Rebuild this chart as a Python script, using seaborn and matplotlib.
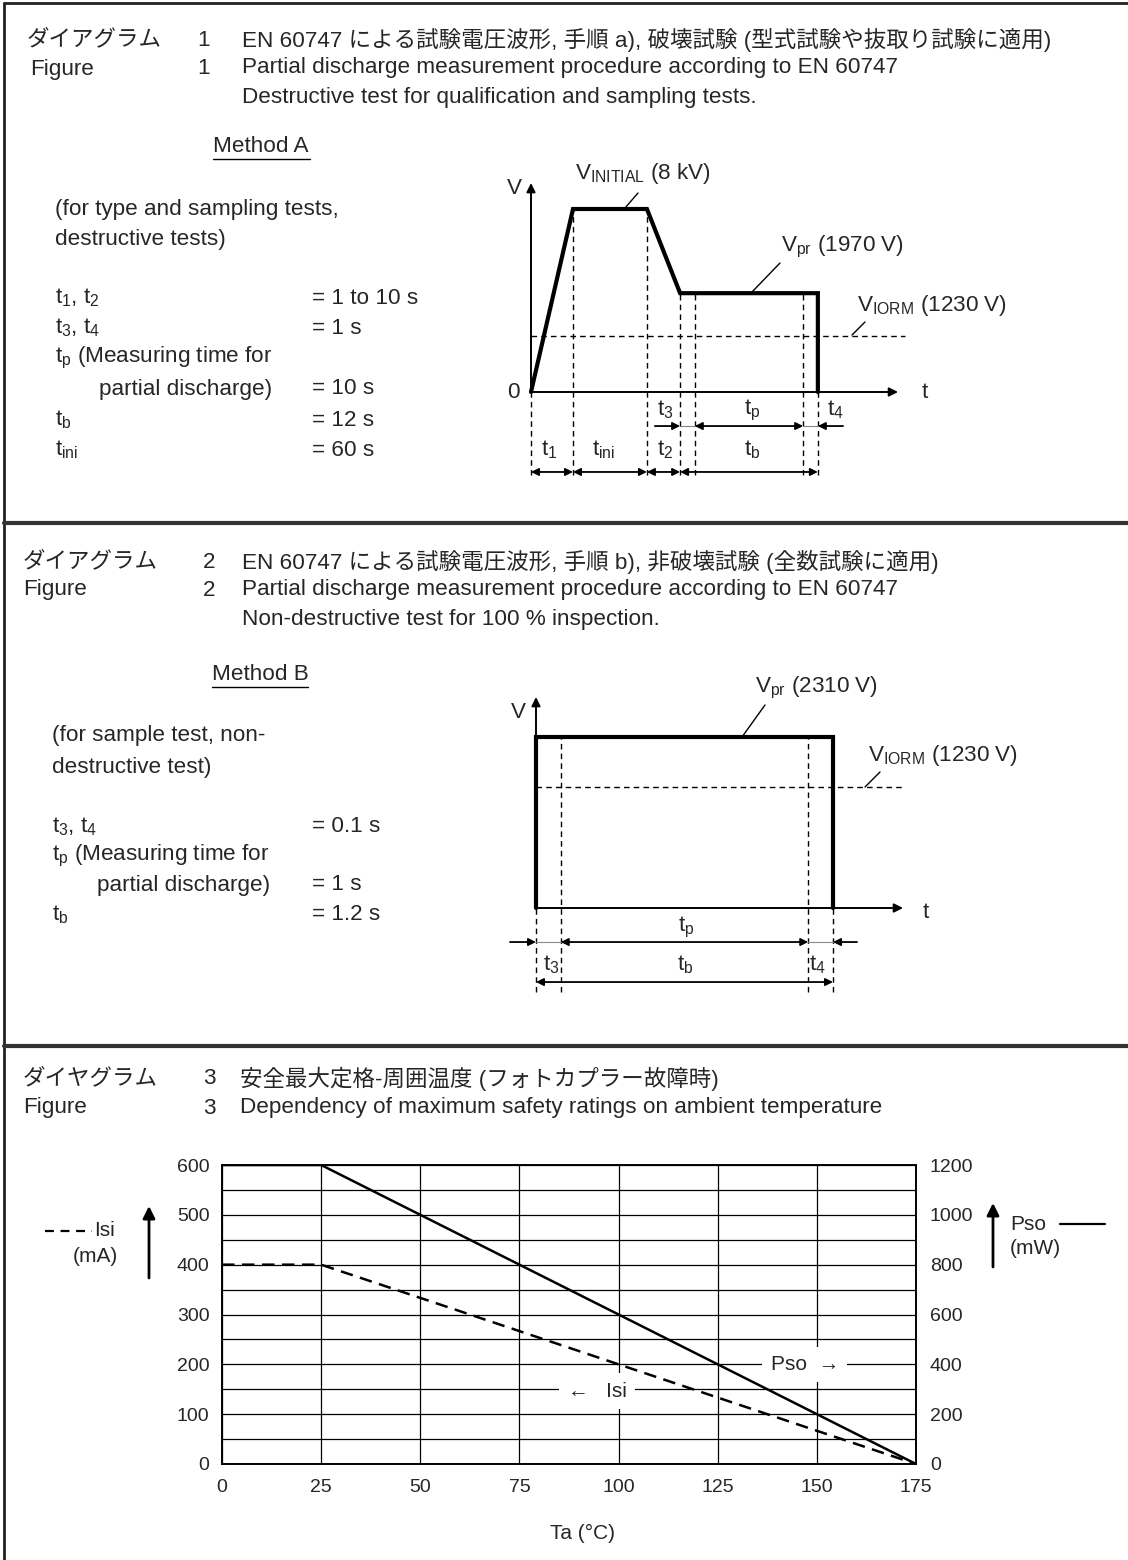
import numpy as np
import pandas as pd
import matplotlib
matplotlib.use('Agg')
import matplotlib.pyplot as plt
import seaborn as sns

W, H = 1128, 1560

# ---- Figure 1 (method A), schematic units: t1 step = 1, V_INITIAL = 1
wave_a_t = [0, 1.0, 2.76, 3.55, 6.83, 6.83]
wave_a_v = [0, 1.0, 1.0, 0.54, 0.54, 0]
guides_a_t = [0, 1.0, 2.76, 3.55, 3.9, 6.48, 6.83]
guides_a_top = [0, 1.0, 1.0, 0.54, 0.54, 0.54, 0]
viorm_a = 0.306
spans_a = [(0, 1.0), (1.0, 2.76), (2.76, 3.55), (3.55, 6.83)]   # t1, tini, t2, tb
tp_a = (3.9, 6.48)

# ---- Figure 2 (method B), time in s, V_pr = 1
wave_b_t = [0, 0, 1.2, 1.2]
wave_b_v = [0, 1.0, 1.0, 0]
guides_b_t = [0, 0.1, 1.1, 1.2]
guides_b_top = [0, 1.0, 1.0, 0]
viorm_b = 0.708
tp_b = (0.1, 1.1)
tb_b = (0, 1.2)

# ---- Figure 3 safety ratings
ta = [0, 25, 175]
isi_ma = [400, 400, 0]
pso_mw = [1200, 1200, 0]
x_ticks = [0, 25, 50, 75, 100, 125, 150, 175]
left_ticks = [0, 100, 200, 300, 400, 500, 600]
right_ticks = [0, 200, 400, 600, 800, 1000, 1200]

sns.set_style('white')
plt.rcParams['font.family'] = ['Liberation Sans', 'Noto Sans CJK JP']
plt.rcParams['mathtext.fontset'] = 'custom'
plt.rcParams['mathtext.rm'] = 'Liberation Sans'
plt.rcParams['mathtext.it'] = 'Liberation Sans'
plt.rcParams['mathtext.default'] = 'regular'

FS = 16.2
FS_CHART = 15
fig = plt.figure(figsize=(W / 100, H / 100), dpi=100)


def px_rect(l, t, r, b):
    return [l / W, 1 - b / H, (r - l) / W, (b - t) / H]


# canvas in pixel coordinates for texts and frame
cv = fig.add_axes([0, 0, 1, 1])
cv.set_xlim(0, W)
cv.set_ylim(H, 0)
cv.axis('off')


def txt(x, y, s, size=FS, **kw):
    cv.text(x, y, s, fontsize=size, va='center', ha=kw.pop('ha', 'left'), **kw)


# frame and dividers
cv.plot([4, 4], [3, H], color='#222', lw=2)
cv.plot([4, W], [3, 3], color='#222', lw=2)
for yy in [523, 1046]:
    cv.plot([4, W], [yy, yy], color='#333', lw=3)

# ---- headers
txt(27, 40, 'ダイアグラム')
txt(30, 69, 'Figure')
txt(197, 40, '1')
txt(197, 68, '1')
txt(242, 40, 'EN 60747 による試験電圧波形, 手順 a), 破壊試験 (型式試験や抜取り試験に適用)')
txt(242, 68, 'Partial discharge measurement procedure according to EN 60747')
txt(242, 98, 'Destructive test for qualification and sampling tests.')

txt(23, 562, 'ダイアグラム')
txt(23, 590, 'Figure')
txt(203, 562, '2')
txt(203, 590, '2')
txt(242, 562, 'EN 60747 による試験電圧波形, 手順 b), 非破壊試験 (全数試験に適用)')
txt(242, 590, 'Partial discharge measurement procedure according to EN 60747')
txt(242, 620, 'Non-destructive test for 100 % inspection.')

txt(23, 1079, 'ダイヤグラム')
txt(23, 1108, 'Figure')
txt(203, 1079, '3')
txt(203, 1108, '3')
txt(240, 1079, '安全最大定格-周囲温度 (フォトカプラー故障時)')
txt(240, 1108, 'Dependency of maximum safety ratings on ambient temperature')

# ---- method A parameters
txt(213, 147, 'Method A')
cv.plot([213, 310], [159, 159], color='k', lw=1)
txt(55, 210, '(for type and sampling tests,')
txt(55, 239, 'destructive tests)')
rows_a = [(298, 55, 't$_1$, t$_2$', '= 1 to 10 s'),
          (328, 55, 't$_3$, t$_4$', '= 1 s'),
          (358, 55, 't$_p$ (Measuring time for', None),
          (389, 99, 'partial discharge)', '= 10 s'),
          (420, 55, 't$_b$', '= 12 s'),
          (450, 55, 't$_{ini}$', '= 60 s')]
for y, x, a, b in rows_a:
    txt(x, y, a)
    if b:
        txt(312, y, b)

# ---- method B parameters
txt(212, 675, 'Method B')
cv.plot([212, 308], [687, 687], color='k', lw=1)
txt(52, 736, '(for sample test, non-')
txt(52, 767, 'destructive test)')
rows_b = [(827, 52, 't$_3$, t$_4$', '= 0.1 s'),
          (856, 52, 't$_p$ (Measuring time for', None),
          (885, 97, 'partial discharge)', '= 1 s'),
          (915, 52, 't$_b$', '= 1.2 s')]
for y, x, a, b in rows_b:
    txt(x, y, a)
    if b:
        txt(312, y, b)


def diagram_axes(origin, sx, sy, box):
    l, t, r, b = box
    ax = fig.add_axes(px_rect(l, t, r, b))
    ax.set_xlim((l - origin[0]) / sx, (r - origin[0]) / sx)
    ax.set_ylim((origin[1] - b) / sy, (origin[1] - t) / sy)
    ax.axis('off')
    return ax


def arrow(ax, x0, x1, y, style):
    ax.annotate('', xy=(x1, y), xytext=(x0, y),
                arrowprops=dict(arrowstyle=style, color='k', lw=1.3,
                                mutation_scale=11, shrinkA=0, shrinkB=0))


def axes_arrows(ax, xend, yend):
    for xy in [(xend, 0), (0, yend)]:
        ax.annotate('', xy=xy, xytext=(0, 0),
                    arrowprops=dict(arrowstyle='-|>', color='k', lw=1.4,
                                    mutation_scale=13, shrinkA=0, shrinkB=0))


# ---- diagram A
axa = diagram_axes((531, 392), 42, 183, (480, 150, 1010, 490))
axes_arrows(axa, 8.74, 1.142)
axa.plot(wave_a_t, wave_a_v, color='k', lw=3, solid_joinstyle='miter')
axa.plot([0, 8.9], [viorm_a, viorm_a], color='k', lw=1, ls=(0, (4, 3)))
for t, top in zip(guides_a_t, guides_a_top):
    axa.plot([t, t], [-0.454, top], color='k', lw=1, ls=(0, (4, 3)))
for a, b in spans_a:
    arrow(axa, a, b, -0.437, '<|-|>')
row1 = -0.186
arrow(axa, 2.95, guides_a_t[3], row1, '-|>')
axa.plot([guides_a_t[3], tp_a[0]], [row1, row1], color='#888', lw=0.8)
arrow(axa, tp_a[0], tp_a[1], row1, '<|-|>')
axa.plot([tp_a[1], wave_a_t[-1]], [row1, row1], color='#888', lw=0.8)
arrow(axa, 7.43, wave_a_t[-1], row1, '-|>')

txt(507, 188, 'V')
txt(507, 392, '0')
txt(922, 393, 't')
txt(575, 173, 'V$_{INITIAL}$ (8 kV)')
cv.plot([625, 638], [208, 193], color='k', lw=1)
txt(781, 247, 'V$_{pr}$ (1970 V)')
cv.plot([752, 780], [292, 263], color='k', lw=1)
txt(857, 305, 'V$_{IORM}$ (1230 V)')
cv.plot([852, 865], [335, 322], color='k', lw=1)
txt(665, 410, 't$_3$', ha='center')
txt(752, 410, 't$_p$', ha='center')
txt(835, 410, 't$_4$', ha='center')
txt(549, 450, 't$_1$', ha='center')
txt(604, 450, 't$_{ini}$', ha='center')
txt(665, 450, 't$_2$', ha='center')
txt(752, 450, 't$_b$', ha='center')

# ---- diagram B
axb = diagram_axes((536, 908), 247.5, 171, (490, 680, 1010, 1000))
axes_arrows(axb, 1.483, 1.234)
axb.plot(wave_b_t, wave_b_v, color='k', lw=3, solid_joinstyle='miter')
axb.plot([0, 1.491], [viorm_b, viorm_b], color='k', lw=1, ls=(0, (4, 3)))
for t, top in zip(guides_b_t, guides_b_top):
    axb.plot([t, t], [-0.49, top], color='k', lw=1, ls=(0, (4, 3)))
r1 = -0.199
arrow(axb, -0.105, tb_b[0], r1, '-|>')
axb.plot([tb_b[0], tp_b[0]], [r1, r1], color='#888', lw=0.8)
arrow(axb, tp_b[0], tp_b[1], r1, '<|-|>')
axb.plot([tp_b[1], tb_b[1]], [r1, r1], color='#888', lw=0.8)
arrow(axb, 1.297, tb_b[1], r1, '-|>')
arrow(axb, tb_b[0], tb_b[1], -0.433, '<|-|>')

txt(511, 712, 'V')
txt(923, 912, 't')
txt(755, 688, 'V$_{pr}$ (2310 V)')
cv.plot([742, 765], [737, 705], color='k', lw=1)
txt(868, 755, 'V$_{IORM}$ (1230 V)')
cv.plot([865, 880], [787, 772], color='k', lw=1)
txt(686, 927, 't$_p$', ha='center')
txt(551, 965, 't$_3$', ha='center')
txt(685, 965, 't$_b$', ha='center')
txt(817, 965, 't$_4$', ha='center')

# ---- figure 3 chart
df = pd.DataFrame({'Ta': ta, 'Isi': isi_ma, 'Pso': pso_mw})
ax3 = fig.add_axes(px_rect(222, 1165, 916, 1464))
sns.lineplot(data=df, x='Ta', y='Isi', ax=ax3, color='k', lw=1.8,
             linestyle=(0, (5, 3)))
ax3.set_xlim(0, 175)
ax3.set_ylim(0, 600)
ax3.set_xticks(x_ticks)
ax3.set_yticks(left_ticks)
ax3.set_yticks(np.arange(50, 600, 100), minor=True)
ax3.grid(True, which='both', axis='y', color='k', lw=0.9)
ax3.grid(True, which='major', axis='x', color='k', lw=0.9)
ax3.set_axisbelow(True)
ax3.tick_params(axis='both', which='both', length=0, labelsize=14)
ax3.tick_params(axis='y', pad=9)
ax3.tick_params(axis='x', pad=11)
ax3.set_xlabel('')
ax3.set_ylabel('')
for s in ax3.spines.values():
    s.set_color('k')
    s.set_linewidth(1.2)
ax3.text(147, 200, 'Pso  →', fontsize=FS_CHART, ha='center', va='center',
         bbox=dict(facecolor='white', edgecolor='none', pad=6))
ax3.text(94.6, 146, '←   Isi', fontsize=FS_CHART, ha='center', va='center',
         bbox=dict(facecolor='white', edgecolor='none', pad=6))

ax3b = ax3.twinx()
sns.lineplot(data=df, x='Ta', y='Pso', ax=ax3b, color='k', lw=1.8)
ax3b.set_ylim(0, 1200)
ax3b.set_yticks(right_ticks)
ax3b.tick_params(axis='y', length=0, labelsize=14, pad=10)
ax3b.set_ylabel('')
for s in ax3b.spines.values():
    s.set_color('k')
    s.set_linewidth(1.2)

txt(582, 1533, 'Ta (°C)', size=FS_CHART, ha='center')

# axis legends beside the chart
cv.plot([45, 92], [1231, 1231], color='k', lw=1.6, ls=(0, (4, 3)))
txt(94, 1231, 'Isi', size=FS_CHART)
txt(118, 1256, '(mA)', size=FS_CHART, ha='right')
cv.annotate('', xy=(149, 1206), xytext=(149, 1278),
            arrowprops=dict(arrowstyle='-|>', color='k', lw=2,
                            mutation_scale=18, shrinkA=0, shrinkB=0))
txt(1010, 1224, 'Pso', size=FS_CHART)
cv.plot([1060, 1105], [1224, 1224], color='k', lw=1.6)
txt(1010, 1249, '(mW)', size=FS_CHART)
cv.annotate('', xy=(993, 1203), xytext=(993, 1267),
            arrowprops=dict(arrowstyle='-|>', color='k', lw=2,
                            mutation_scale=18, shrinkA=0, shrinkB=0))

fig.savefig('out.png', dpi=100)
